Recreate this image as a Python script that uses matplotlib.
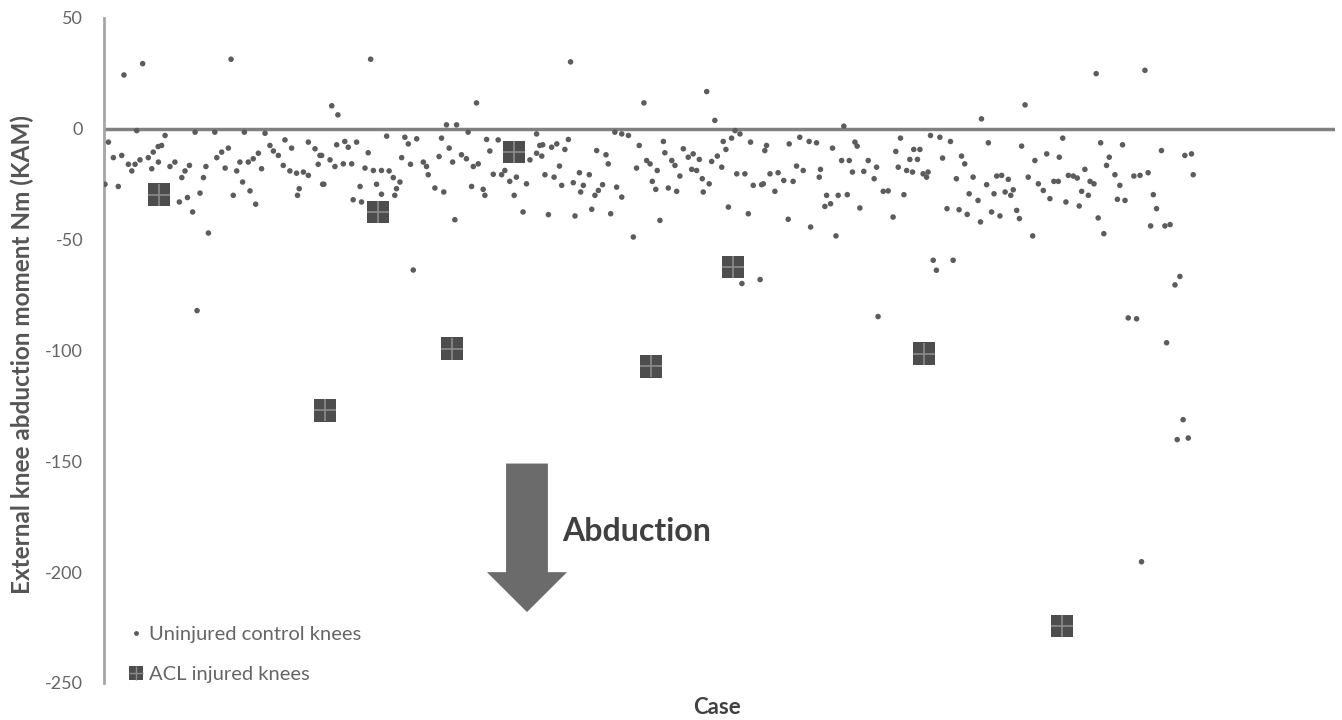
import matplotlib.pyplot as plt
from matplotlib.lines import Line2D
from matplotlib.patches import FancyArrow

# Uninjured control knees (case number, KAM in Nm)
case_ctrl = [
    8.1, 15.7, 51.6, 92.5, 95.0, 108.3, 189.5, 244.8, 403.0, 422.8,
    1.8, 13.3, 24.8, 37.0, 45.0, 57.0, 65.4, 0.4, 5.8, 3.8, 7.2, 9.9, 11.3, 12.6, 14.6, 18.0, 20.0, 22.0,
    23.4, 19.4, 22.1, 26.8, 28.8, 31.6, 32.9, 34.7, 30.6, 33.9, 36.0, 39.0, 40.4, 41.4, 42.4, 45.8, 47.8,
    50.5, 49.2, 52.5, 53.9, 55.2, 56.3, 58.6, 60.6, 62.7, 59.3, 61.6, 64.0, 67.4, 68.8, 70.8, 73.5, 76.2,
    72.8, 75.5, 78.2, 79.3, 78.6, 81.0, 83.0, 83.0, 85.7, 87.7, 87.0, 88.8, 37.8,
    151.3, 139.1, 143.2, 147.9, 114.8, 122.2, 123.6, 127.0, 137.1, 140.2, 155.4, 160.1, 175.7, 94.5, 97.8,
    99.2, 102.6, 88.4, 107.3, 91.8, 93.8, 97.2, 100.6, 106.0, 109.4, 112.7, 115.8, 117.5, 120.2, 118.8,
    118.1, 89.3, 104.0, 110.7, 101.2, 104.6, 112.7, 120.9, 124.5, 129.7, 131.0, 131.7, 134.4, 138.0, 136.1,
    141.6, 142.5, 145.2, 147.2, 150.0, 152.0, 149.3, 154.0, 154.7, 156.7, 158.1, 161.5, 162.8, 164.8, 167.5,
    171.6, 166.6, 170.2, 125.6, 173.0, 175.7, 177.0,
    219.3, 248.1, 207.5, 210.3, 213.0, 256.3, 258.3, 178.2, 181.8, 183.9, 188.6, 177.8, 187.2, 185.0, 179.1,
    182.8, 185.9, 190.6, 194.7, 193.1, 197.1, 193.6, 199.4, 200.8, 202.5, 200.1, 203.9, 204.8, 208.2, 210.3,
    180.5, 191.3, 198.1, 205.8, 215.0, 216.3, 217.4, 220.4, 221.8, 224.7, 222.7, 224.1, 227.2, 227.8, 230.6,
    231.9, 229.2, 232.6, 233.9, 225.8, 235.3, 237.3, 239.3, 241.8, 238.7, 240.7, 243.0, 245.8, 243.4, 246.8,
    249.1, 250.9, 251.5, 252.6, 254.9, 257.0, 260.3, 262.6, 253.6, 261.7, 263.7, 267.1, 259.1, 266.5,
    300.5, 356.4, 267.8, 269.1, 268.4, 272.5, 270.5, 273.8, 276.1, 279.9, 278.3, 282.6, 286.4, 289.4, 281.3,
    284.0, 291.0, 290.5, 295.9, 299.6, 302.7, 305.0, 305.9, 293.5, 298.2, 301.9, 292.8, 295.1, 304.0, 308.6,
    310.4, 313.8, 312.8, 307.0, 316.5, 318.5, 277.9, 287.0, 297.3, 320.5, 321.6, 322.6, 323.5, 324.9, 326.0,
    328.4, 327.3, 330.4, 328.9, 331.4, 332.7, 334.1, 334.7, 335.7, 339.5, 343.8, 340.6, 346.2, 348.3, 349.6,
    353.0, 351.4, 355.0, 342.4, 347.3, 350.6, 356.0, 336.8, 344.9, 338.1, 314.4,
    374.1, 359.2, 372.7, 389.4, 404.8, 413.7, 429.5, 439.0, 441.7, 442.4, 378.1, 382.9, 388.0, 358.5, 362.6,
    364.6, 367.3, 361.5, 366.0, 368.3, 369.3, 360.5, 363.9, 370.7, 371.8, 377.2, 375.4, 379.5, 381.5, 384.2,
    385.8, 387.6, 390.7, 391.7, 393.7, 395.3, 398.4, 397.1, 399.8, 396.1, 400.5, 402.1, 403.8, 406.1, 407.2,
    408.3, 410.6, 412.6, 411.6, 414.7, 418.3, 420.8, 424.1, 426.2, 427.5, 425.1, 430.9, 433.0,
    437.0, 435.0, 416.0, 419.4, 431.6, 438.3, 435.9, 440.4, 421.4,
]
kam_ctrl = [
    24.3, 29.4, 31.4, 10.4, 6.3, 31.4, 30.2, 16.8, 24.9, 26.4,
    -6, -0.8, -3, -1.5, -1.5, -1.5, -2, -25, -26, -13, -12, -16, -19, -16, -14, -13, -10.5, -8,
    -7.5, -18, -15, -17, -15, -22, -19, -16.5, -33, -31, -37.5, -29, -22, -17, -47, -13, -10.5,
    -8.7, -17.7, -30, -19, -15, -24, -15, -13.5, -11, -28, -34, -18, -7.5, -10, -12, -5, -8.7,
    -16.5, -19, -20, -27, -30, -19.5, -21, -6, -9, -12, -16, -25, -82,
    11.7, 1.8, 1.8, -1.5, -3.3, -3.8, -6.8, -4.5, -4.2, -8.7, -4.8, -5, -2.3, -7.2, -5.7,
    -8.3, -6, -12, -10.8, -14, -17, -15.8, -15.8, -17.7, -18.8, -18.8, -19, -22, -24, -27,
    -30, -25, -26, -25, -32, -33, -29.5, -13, -16, -15, -17, -20.7, -26.7, -28.5, -12.5,
    -15, -41, -11.7, -13.5, -17, -15.8, -26, -27.3, -30, -10, -20.5, -20.7, -18.8, -23.7, -21.8,
    -24.8, -30, -37.5, -63.7, -14, -11, -7.5,
    11.7, 3.8, -1.5, -2.3, -3, -0.8, -2.3, -7.2, -8.3, -6.8, -4.8, -12.3, -9.3, -16.8, -20.7,
    -21.8, -25.5, -24.3, -25.5, -19.8, -20.7, -28.5, -30, -27.8, -25.2, -9.8, -11.7, -15.8, -26.3, -30.8,
    -38.7, -39.3, -36.3, -38.3, -48.8, -17.7, -7.5, -14.3, -15.8, -18.8, -23.7, -27.3, -5.7, -10.8, -14.3,
    -16.5, -26.7, -28.2, -21.3, -41.3, -9, -12.8, -11.3, -13.8, -18.3, -18.8, -22.5, -24.8, -28.5, -14.7,
    -12.3, -17.3, -5.7, -9.3, -4.2, -20.3, -20.3, -6, -35.3, -38.3, -25.5, -25.2, -69.8, -68,
    1.2, 4.5, -24.8, -7.5, -9.8, -28.2, -20.3, -19.8, -23.3, -23.7, -6.8, -3.8, -5.7, -6.3, -16.8,
    -18.8, -18.3, -21.8, -8.7, -14.3, -14.3, -6, -7.8, -30, -30, -29.7, -35, -33.8, -19.5, -19.2,
    -14.3, -17.3, -22.5, -35.7, -28.2, -28, -40.8, -44.3, -48.3, -39.8, -10.2, -17.3, -4.2, -29.7, -18.8,
    -19.5, -13.8, -13.8, -9.3, -9.3, -20.3, -21.8, -19.5, -3, -3.8, -5.7, -13.2, -22.5, -12.3, -15.8,
    -21.8, -29.3, -32.3, -36, -36.5, -38.6, -42, -59.3, -59.3, -63.8, -84.7,
    10.8, -6.3, -7.8, -4.2, -6.3, -7.2, -9.8, -12, -11.3, -20.7, -14.3, -11.3, -12.8, -25.2, -21.3,
    -21, -22.8, -29.3, -28.5, -30, -27.5, -37.5, -39.3, -36.8, -40.5, -48.3, -21.8, -24.8, -27.8, -31.5,
    -23.7, -23.7, -33, -21, -21.3, -22.2, -18.3, -28.2, -30, -34.8, -23.7, -24.8, -40.2, -47.3, -16.5,
    -12.8, -20.7, -25.5, -31.8, -32.3, -21.3, -21, -19.8, -29.7, -36, -43.8, -43.8, -43.2,
    -66.6, -70.4, -85.3, -85.7, -96.5, -131.2, -140.2, -139.5, -195.3,
]

# ACL injured knees
case_acl = [22.3, 89.8, 111.3, 141.3, 166.5, 222.2, 255.5, 333.0, 389.1]
kam_acl = [-29.7, -127.0, -37.4, -99.1, -10.4, -107.2, -62.2, -101.4, -224.3]

y_ticks = [50, 0, -50, -100, -150, -200, -250]

assert len(case_ctrl) == len(kam_ctrl), (len(case_ctrl), len(kam_ctrl))

plt.rcParams['font.family'] = ['Lato', 'DejaVu Sans']

fig = plt.figure(figsize=(13.42, 7.2), dpi=100)
ax = fig.add_axes([0.0775, 0.0514, 0.9173, 0.9236])

# zero line acts as the x axis
ax.axhline(0, color='#808080', lw=2.5, zorder=1)

ax.scatter(case_ctrl, kam_ctrl, s=16, color='#5c5c5c', edgecolors='none', zorder=3)
ax.scatter(case_acl, kam_acl, s=260, marker='s', color='#4d4d4d', edgecolors='none', zorder=4)
ax.scatter(case_acl, kam_acl, s=260, marker='+', color='#8c8c8c', linewidths=1.2, zorder=5)

# big "Abduction" arrow
ax.add_patch(FancyArrow(171.8, -151, 0, -67, width=17, head_width=32.5, head_length=18,
                        length_includes_head=True, color='#6b6b6b', lw=0, zorder=2))
ax.text(186.0, -181.5, 'Abduction', fontsize=23, fontweight='bold', color='#404040',
        ha='left', va='center')

ax.set_xlim(0, 500)
ax.set_ylim(-250, 50)
ax.set_xticks([])
ax.set_yticks(y_ticks)
ax.set_yticklabels([str(t) for t in y_ticks])
ax.tick_params(axis='y', length=0, pad=15, labelsize=13, labelcolor='#666666')

for side in ['top', 'right', 'bottom']:
    ax.spines[side].set_visible(False)
ax.spines['left'].set_color('#a6a6a6')
ax.spines['left'].set_linewidth(2)

fig.text(22 / 1342, 1 - 355 / 720, 'External knee abduction moment Nm (KAM)', rotation=90,
         fontsize=17.5, fontweight='bold', color='#555555', ha='center', va='center')
fig.text(717 / 1342, 1 - 707 / 720, 'Case', fontsize=16, fontweight='bold', color='#404040',
         ha='center', va='center')

# legend
h_ctrl = Line2D([], [], ls='none', marker='o', markersize=3.5, color='#5c5c5c', markeredgewidth=0)
h_sq = Line2D([], [], ls='none', marker='s', markersize=10, color='#4d4d4d', markeredgewidth=0)
h_plus = Line2D([], [], ls='none', marker='+', markersize=10, color='#8c8c8c', markeredgewidth=1)
leg = fig.legend([h_ctrl, (h_sq, h_plus)], ['Uninjured control knees', 'ACL injured knees'],
                 loc='upper left', bbox_to_anchor=(118 / 1342, 1 - 616 / 720), frameon=False,
                 fontsize=14.5, labelcolor='#666666', handlelength=0.8, handletextpad=0.25,
                 labelspacing=1.15, borderpad=0)

fig.savefig('out.png', dpi=100)
